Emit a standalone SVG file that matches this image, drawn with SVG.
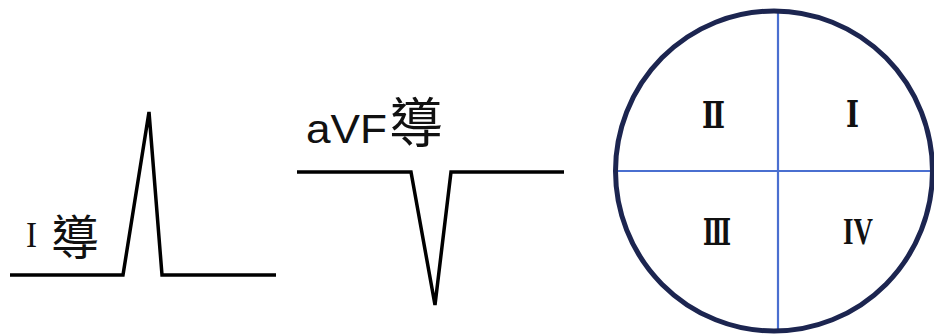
<svg xmlns="http://www.w3.org/2000/svg" width="934" height="335" viewBox="0 0 934 335">
<style>
.trace{fill:none;stroke:#000;stroke-width:3.5;stroke-linejoin:miter;stroke-linecap:butt}
.axis{stroke:#4a6fd0;stroke-width:2.2}
.ring{fill:none;stroke:#1c2550;stroke-width:5}
.rn{font-family:"Liberation Serif","DejaVu Serif","Noto Sans CJK TC",serif;font-size:38px;font-weight:bold;fill:#111;text-anchor:middle}
.cjk{font-family:"Noto Sans CJK TC","Noto Sans CJK SC",sans-serif;fill:#111}
</style>
<rect width="934" height="335" fill="#fff"/>
<g id="lead-I">
<polyline class="trace" points="10,275 123,275 149,112 162,275 276,275"/>
<text x="26" y="247" font-family="Liberation Serif,serif" font-size="35" fill="#111" textLength="11" lengthAdjust="spacingAndGlyphs">I</text>
<text x="51" y="255" class="cjk" font-size="48">導</text>
</g>
<g id="lead-aVF">
<polyline class="trace" points="297,172 411,172 435,305 451,172 564,172"/>
<text x="306" y="143" font-family="Liberation Sans,Arial,sans-serif" font-size="40" fill="#111" textLength="81" lengthAdjust="spacingAndGlyphs">aVF</text>
<text x="389" y="143" class="cjk" font-size="54">導</text>
</g>
<g id="axis-circle">
<line class="axis" x1="778" y1="12" x2="778" y2="331"/>
<line class="axis" x1="618" y1="171" x2="933" y2="171"/>
<ellipse class="ring" cx="774" cy="171" rx="158.5" ry="160"/>
<text class="rn" x="713.5" y="128" textLength="23" lengthAdjust="spacingAndGlyphs">Ⅱ</text>
<text class="rn" x="852.5" y="127" textLength="13" lengthAdjust="spacingAndGlyphs">Ⅰ</text>
<text class="rn" x="717" y="245" textLength="28" lengthAdjust="spacingAndGlyphs">Ⅲ</text>
<text class="rn" x="858" y="244" textLength="30" lengthAdjust="spacingAndGlyphs">IV</text>
</g>
</svg>
